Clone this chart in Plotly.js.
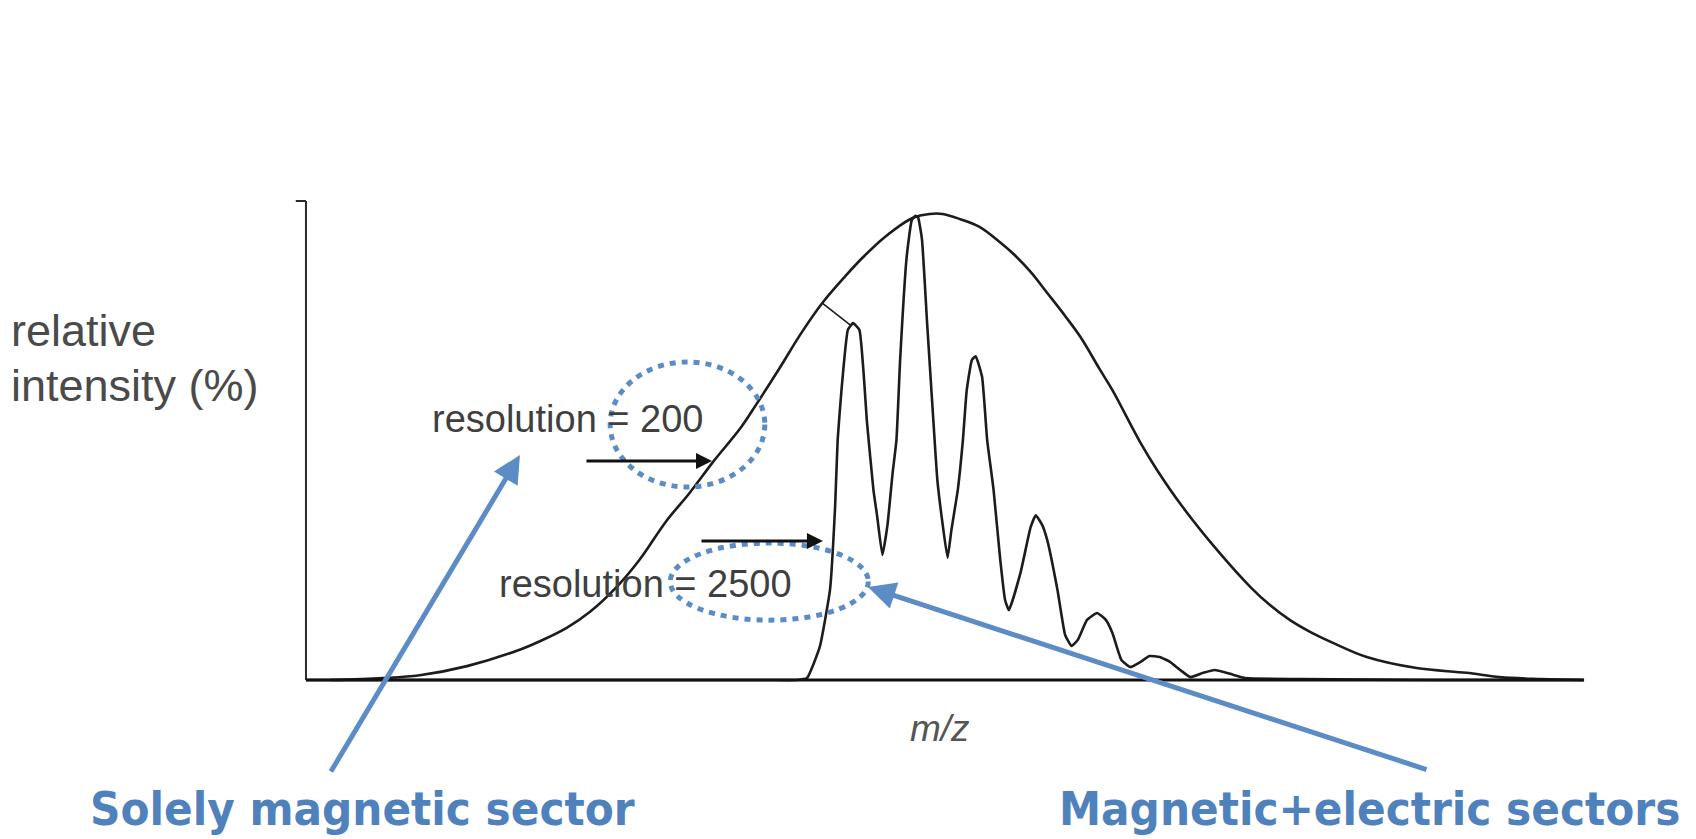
<!DOCTYPE html>
<html>
<head>
<meta charset="utf-8">
<script src="https://cdn.plot.ly/plotly-3.0.1.min.js"></script>
<style>
  html, body { margin: 0; padding: 0; background: #ffffff; }
  #chart { width: 1696px; height: 839px; }
</style>
</head>
<body>
<div id="chart"></div>
<script>
// ---- Data (m/z in arbitrary units 0-100, relative intensity in %) ----
// Broad peak: resolution = 200 (solely magnetic sector)
const broadMz = [1.9,6.0,8.9,12.6,16.5,18.3,20.4,22.2,24.3,26.1,28.2,30.0,31.9,34.0,35.3,37.1,38.7,40.4,42.2,43.6,45.3,47.5,48.8,49.8,51.2,52.7,54.3,55.3,56.7,58.0,59.4,60.6,62.1,63.1,65.3,66.6,68.6,71.3,73.9,75.4,77.0,78.6,80.4,83.0,86.9,90.8,93.4,96.6,99.9];
const broadIntensity = [0,0.4,1.0,2.9,6.1,8.1,10.9,14.2,19.4,25.1,33.2,39.0,45.7,52.6,57.8,65.3,72.2,78.7,84.3,88.3,92.5,96.5,97.3,97.3,96.2,94.6,91.4,89.1,85.2,80.8,76.0,71.6,64.9,60.5,49.5,43.8,36.1,27.1,19.4,15.7,12.5,10.0,7.7,4.8,2.5,1.5,0.6,0.2,0];

// Resolved peaks: resolution = 2500 (magnetic + electric sectors)
const narrowMz = [0,20.0,30.0,36.0,38.4,39.2,40.2,41.0,41.4,41.6,41.9,42.4,42.8,43.3,43.9,44.4,44.7,45.1,45.5,45.9,46.2,46.5,47.0,47.4,47.7,47.9,48.2,48.6,49.1,49.4,49.8,50.2,50.5,51.0,51.4,51.7,52.1,52.4,52.9,53.3,53.8,54.3,54.7,55.0,55.9,56.7,57.1,57.6,58.0,58.8,59.4,59.9,60.4,61.1,61.9,62.6,63.1,63.8,64.5,65.3,66.0,66.8,67.6,68.4,69.2,70.2,71.1,72.3,73.5,77.8,88.0,100];
const narrowIntensity = [0,0,0,0,0,0.4,6.9,18.8,36.1,50.1,60.5,73.1,74.5,73.1,53.7,39.7,34.0,26.1,32.4,43.2,50.1,67.4,88.3,96.0,96.9,96.5,91.9,74.5,53.7,41.8,32.8,25.5,31.3,39.7,50.1,60.5,66.8,67.6,63.3,50.1,39.7,25.7,16.7,14.6,22.3,31.9,34.4,32.4,29.2,18.8,9.4,7.1,8.4,12.5,14.0,12.5,9.8,4.2,2.7,3.8,5.0,4.8,3.8,2.1,0.6,1.5,2.1,1.3,0.4,0.2,0,0];

// Short joining stroke between the two curves
const joinMz = [40.4, 42.6];
const joinIntensity = [78.7, 74.1];

// Text labels
const yLabelLines = ["relative", "intensity (%)"];
const xLabel = "m/z";
const resLabels = ["resolution = 200", "resolution = 2500"];
const sectorLabels = ["Solely magnetic sector", "Magnetic+electric sectors"];

// ---- Styling ----
const ink = "#1c1c1c";
const blue = "#5b8cc6";
const blueText = "#4f81bd";
const grayText = "#3f3f3f";

const traces = [
  { x: broadMz, y: broadIntensity, type: "scatter", mode: "lines",
    line: { color: ink, width: 2.6, shape: "spline", smoothing: 1 }, hoverinfo: "skip" },
  { x: narrowMz, y: narrowIntensity, type: "scatter", mode: "lines",
    line: { color: ink, width: 2.6, shape: "spline", smoothing: 0.4 }, hoverinfo: "skip" },
  { x: joinMz, y: joinIntensity, type: "scatter", mode: "lines",
    line: { color: ink, width: 1.6 }, hoverinfo: "skip" }
];

const shapes = [
  // axes
  { type: "line", xref: "x", yref: "y", x0: 0, y0: 0, x1: 0, y1: 100, line: { color: "#2a2a2a", width: 2 } },
  { type: "line", xref: "x", yref: "y", x0: -0.8, y0: 100, x1: 0, y1: 100, line: { color: "#2a2a2a", width: 2 } },
  { type: "line", xref: "x", yref: "y", x0: 0, y0: 0, x1: 100, y1: 0, line: { color: "#111111", width: 3 } },
  // dotted ellipses
  { type: "circle", xref: "x", yref: "y", x0: 23.8, x1: 35.9, y0: 40.3, y1: 66.4,
    line: { color: blue, width: 5, dash: "6px,6px" } },
  { type: "circle", xref: "x", yref: "y", x0: 28.5, x1: 44.0, y0: 12.5, y1: 28.6,
    line: { color: blue, width: 5, dash: "6px,6px" } }
];

function arrow(x, y, ax, ay, color, width, size) {
  return { x: x, y: y, ax: ax, ay: ay, xref: "x", yref: "y", axref: "x", ayref: "y",
    text: "", showarrow: true, arrowhead: 2, arrowsize: size, arrowwidth: width,
    arrowcolor: color, standoff: 0, startstandoff: 0 };
}
function label(x, y, text, size, color, family, xanchor) {
  return { x: x, y: y, xref: "x", yref: "y", text: text, showarrow: false,
    xanchor: xanchor || "left", yanchor: "middle",
    font: { size: size, color: color, family: family } };
}

const sans = "Liberation Sans, Arial, sans-serif";
const boldFam = "DejaVu Sans Condensed, DejaVu Sans, sans-serif";

const annotations = [
  label(-23.2, 72.9, yLabelLines[0], 45, "#4a4a4a", sans),
  label(-23.2, 61.5, yLabelLines[1], 45, "#4a4a4a", sans),
  label(9.7, 54.5, resLabels[0], 38, grayText, sans),
  label(14.95, 20.0, resLabels[1], 38, grayText, sans),
  label(49.6, -10.2, "<i>" + xLabel + "</i>", 37, "#555555", sans, "center"),
  label(-17.06, -26.9, "<b>" + sectorLabels[0] + "</b>", 47, blueText, boldFam),
  label(58.76, -26.9, "<b>" + sectorLabels[1] + "</b>", 47, blueText, boldFam),
  // black pointer arrows
  arrow(31.77, 45.72, 21.83, 45.72, "#111111", 3.2, 1),
  arrow(40.45, 29.02, 30.83, 29.02, "#111111", 3.2, 1),
  // blue arrows
  arrow(16.74, 46.97, 1.88, -19.42, blue, 5, 1.1),
  arrow(43.97, 19.42, 87.79, -18.79, blue, 5, 1.1)
];

const layout = {
  width: 1696, height: 839,
  margin: { l: 0, r: 0, t: 0, b: 0, pad: 0 },
  paper_bgcolor: "#ffffff", plot_bgcolor: "#ffffff",
  showlegend: false, hovermode: false,
  xaxis: { range: [-23.94, 108.76], visible: false, fixedrange: true },
  yaxis: { range: [-33.19, 141.96], visible: false, fixedrange: true },
  shapes: shapes,
  annotations: annotations
};

Plotly.newPlot("chart", traces, layout, { displayModeBar: false, staticPlot: true });
</script>
</body>
</html>
